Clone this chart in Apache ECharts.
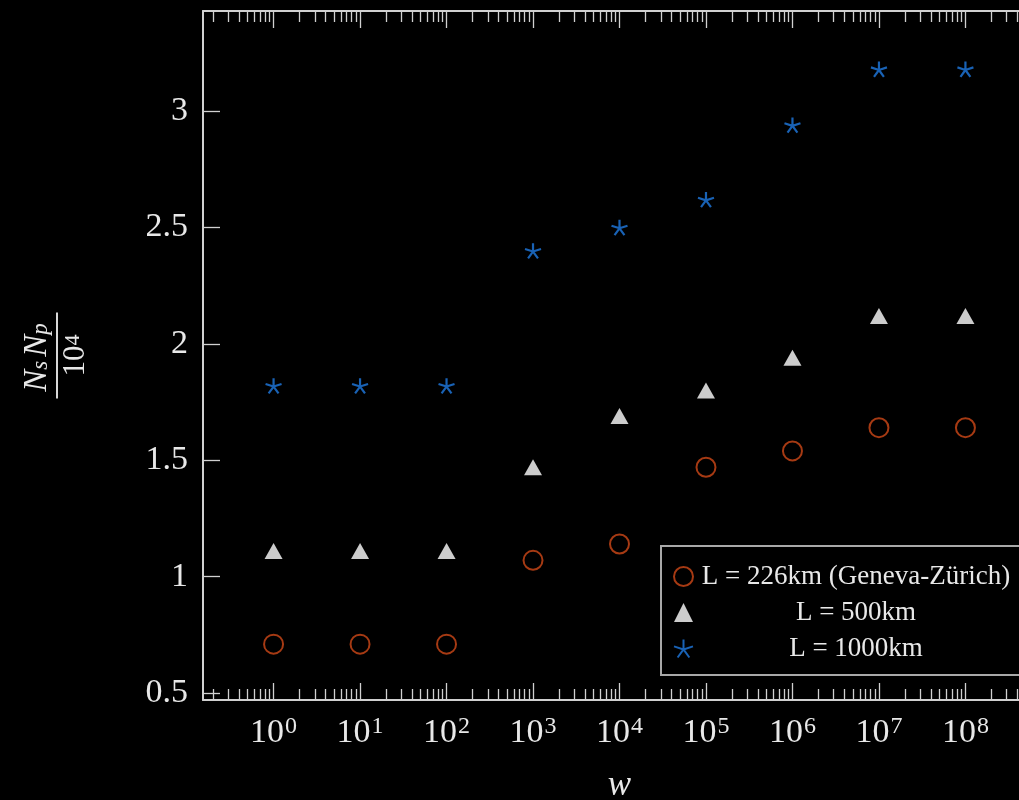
<!DOCTYPE html>
<html>
<head>
<meta charset="utf-8">
<script src="https://cdn.jsdelivr.net/npm/echarts@6/dist/echarts.min.js"></script>
<style>
html,body{margin:0;padding:0;background:#000;overflow:hidden;width:1019px;height:800px}
#c{width:1040px;height:800px}
</style>
</head>
<body>
<div id="c"></div>
<script>
// ---- data ----
const wValues = [1, 10, 100, 1e3, 1e4, 1e5, 1e6, 1e7, 1e8];
const seriesNames = ['L = 226km (Geneva-Zürich)', 'L = 500km', 'L = 1000km'];
const l226 = [0.71, 0.71, 0.71, 1.07, 1.14, 1.47, 1.54, 1.64, 1.64];
const l500 = [1.11, 1.11, 1.11, 1.47, 1.69, 1.80, 1.94, 2.12, 2.12];
const l1000 = [1.82, 1.82, 1.82, 2.40, 2.50, 2.62, 2.94, 3.18, 3.18];
const yTicks = [0.5, 1, 1.5, 2, 2.5, 3];
const xMajorTicks = [1, 10, 100, 1e3, 1e4, 1e5, 1e6, 1e7, 1e8];

// ---- axis ranges ----
const xMin = Math.pow(10, -0.816);
const xMax = Math.pow(10, 8.816);
const yMin = 0.47, yMax = 3.43;

// minor ticks at 2..9 x 10^k inside the range
const xMinorTicks = [];
for (let k = -1; k <= 8; k++) {
  for (let m = 2; m <= 9; m++) {
    const v = m * Math.pow(10, k);
    if (v > xMin && v < xMax) xMinorTicks.push(v);
  }
}

const FONT = 'Liberation Serif';
const TXT = '#e8e8e8';
const AXC = '#d0d0d0';
const C_RED = '#d04818';
const C_BLUE = '#1f7ae2';
const C_WHITE = '#ffffff';
const STAR = 'path://M10,10L10,0M10,10L19.51,6.91M10,10L15.88,18.09M10,10L4.12,18.09M10,10L0.49,6.91';

function xAxisDef(pos, ticks, len, showLine, showLabel) {
  return {
    type: 'log', logBase: 10, min: xMin, max: xMax, position: pos,
    axisLine: { show: showLine, lineStyle: { color: AXC, width: 2 } },
    axisTick: { show: true, inside: true, length: len, customValues: ticks, lineStyle: { color: AXC, width: 1.3 } },
    minorTick: { show: false },
    splitLine: { show: false },
    axisLabel: showLabel ? {
      show: true, customValues: ticks, margin: 15,
      formatter: v => '{b|10}{e|' + Math.round(Math.log10(v)) + '}',
      rich: {
        b: { fontFamily: FONT, fontSize: 34, lineHeight: 36, color: TXT },
        e: { fontFamily: FONT, fontSize: 24, lineHeight: 26, verticalAlign: 'top', color: TXT, padding: [0, 0, 0, 1] }
      }
    } : { show: false }
  };
}

const xAxes = [
  Object.assign(xAxisDef('bottom', xMajorTicks, 17, true, true), {
    name: 'w', nameLocation: 'middle', nameGap: 68,
    nameTextStyle: { fontFamily: FONT, fontStyle: 'italic', fontSize: 35, color: TXT }
  }),
  xAxisDef('bottom', xMinorTicks, 11, false, false),
  xAxisDef('top', xMajorTicks, 17, true, false),
  xAxisDef('top', xMinorTicks, 11, false, false)
];

function yAxisDef(pos, showLabel) {
  return {
    type: 'value', min: yMin, max: yMax, position: pos,
    axisLine: { show: true, lineStyle: { color: AXC, width: 2 } },
    axisTick: { show: true, inside: true, length: 17, customValues: yTicks, lineStyle: { color: AXC, width: 1.3 } },
    splitLine: { show: false },
    axisLabel: showLabel ? {
      show: true, customValues: yTicks, margin: 15,
      fontFamily: FONT, fontSize: 34, color: TXT
    } : { show: false }
  };
}

const yAxes = [
  Object.assign(yAxisDef('left', true), {
    name: '{n|N}{s|s}{n|N}{s|p}\n{bar| }\n{d|10}{e|4}',
    nameLocation: 'middle', nameRotate: 90, nameGap: 113,
    nameTextStyle: {
      color: TXT, align: 'center',
      rich: {
        n: { fontFamily: FONT, fontStyle: 'italic', fontSize: 33, lineHeight: 30, color: TXT, align: 'center' },
        s: { fontFamily: FONT, fontStyle: 'italic', fontSize: 23, lineHeight: 16, verticalAlign: 'bottom', color: TXT, align: 'center', padding: [0, 4, 0, 0] },
        bar: { width: 86, height: 2, lineHeight: 10, fontSize: 1, backgroundColor: '#d8d8d8', align: 'center' },
        d: { fontFamily: FONT, fontSize: 31, lineHeight: 28, color: TXT, align: 'center' },
        e: { fontFamily: FONT, fontSize: 22, lineHeight: 20, verticalAlign: 'top', color: TXT, align: 'center' }
      }
    }
  }),
  yAxisDef('right', false)
];

function pts(vals) { return wValues.map((w, i) => [w, vals[i]]); }

const option = {
  backgroundColor: '#000',
  animation: false,
  grid: { left: 203, width: 833, top: 11, height: 689, containLabel: false, outerBoundsMode: 'none' },
  xAxis: xAxes,
  yAxis: yAxes,
  legend: {
    orient: 'vertical', left: 661, top: 546,
    padding: [17, 12, 13, 12], itemGap: 9, itemWidth: 19, itemHeight: 19, itemTextGap: 6,
    backgroundColor: '#000', borderColor: '#a8a8a8', borderWidth: 2, borderRadius: 0,
    formatter: name => '{c|' + name + '}',
    textStyle: {
      color: TXT, fontFamily: FONT, fontSize: 27,
      rich: { c: { width: 316, align: 'center', fontFamily: FONT, fontSize: 27, lineHeight: 24, color: TXT } }
    },
    data: seriesNames
  },
  series: [
    {
      name: seriesNames[0], type: 'scatter', xAxisIndex: 0, yAxisIndex: 0,
      symbol: 'circle', symbolSize: 19,
      itemStyle: { color: 'rgba(0,0,0,0)', borderColor: C_RED, borderWidth: 2 },
      data: pts(l226)
    },
    {
      name: seriesNames[1], type: 'scatter', xAxisIndex: 0, yAxisIndex: 0,
      symbol: 'triangle', symbolSize: [18, 16],
      itemStyle: { color: C_WHITE },
      data: pts(l500)
    },
    {
      name: seriesNames[2], type: 'scatter', xAxisIndex: 0, yAxisIndex: 0,
      symbol: STAR, symbolSize: 16, symbolKeepAspect: true,
      itemStyle: { color: 'rgba(0,0,0,0)', borderColor: C_BLUE, borderWidth: 2.2 },
      data: pts(l1000)
    }
  ]
};

const chart = echarts.init(document.getElementById('c'), null, { renderer: 'canvas' });
chart.setOption(option);
</script>
</body>
</html>
